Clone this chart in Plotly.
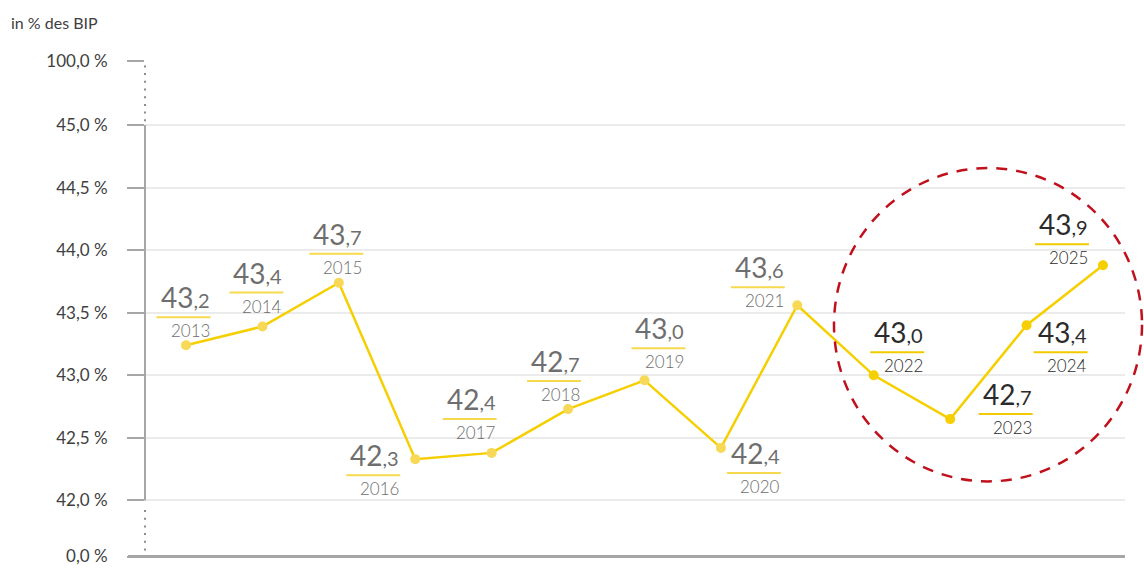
import plotly.graph_objects as go

# ---------------- data ----------------
years = [2013, 2014, 2015, 2016, 2017, 2018, 2019, 2020, 2021, 2022, 2023, 2024, 2025]
values = [43.24, 43.39, 43.74, 42.33, 42.38, 42.73, 42.96, 42.42, 43.56, 43.00, 42.65, 43.40, 43.88]
label_int = ["43", "43", "43", "42", "42", "42", "43", "42", "43", "43", "42", "43", "43"]
label_dec = [",2", ",4", ",7", ",3", ",4", ",7", ",0", ",4", ",6", ",0", ",7", ",4", ",9"]
highlight_from = 2022

# broken axis: tick values (positions) and their texts
tick_vals = [41.552, 42.0, 42.5, 43.0, 43.5, 44.0, 44.5, 45.0, 45.512]
tick_text = ["0,0 %", "42,0 %", "42,5 %", "43,0 %", "43,5 %", "44,0 %", "44,5 %", "45,0 %", "100,0 %"]

# label placement (pixel offsets of label centre / underline relative to point)
label_dx = [-2.5, -6, -2.5, -42, -22, -14, 14, 33, -39.5, 23.5, 55.5, 34, -41]
label_dy = [28, 34, 29, -16, 34, 28, 32, -25, 18, 23, 5, -27, 21]

FONT = "Lato"
YELLOW = "#f5cf00"
OLD_MARK = "#f7d857"
OLD_TEXT = "#6e6e6e"
NEW_TEXT = "#2b2b2b"
OLD_ULINE = "#f7d94e"
NEW_ULINE = "#f2ca00"
AXIS = "#a6a6a6"

fig = go.Figure()

marker_colors = [YELLOW if y >= highlight_from else OLD_MARK for y in years]
fig.add_trace(go.Scatter(
    x=years, y=values, mode="lines+markers",
    line=dict(color=YELLOW, width=2.5),
    marker=dict(size=10, color=marker_colors),
    hoverinfo="skip", showlegend=False,
))

shapes = []
annotations = []
HALF_W = 27
for yr, v, li, ld, dx, dy in zip(years, values, label_int, label_dec, label_dx, label_dy):
    new = yr >= highlight_from
    tcol = NEW_TEXT if new else OLD_TEXT
    ucol = NEW_ULINE if new else OLD_ULINE
    annotations.append(dict(
        x=yr, y=v, xref="x", yref="y", showarrow=False,
        text=f"{li}<span style='font-size:20px'>{ld}</span>",
        font=dict(family=FONT, size=28, color=tcol),
        xanchor="right", yanchor="bottom",
        xshift=dx + HALF_W + 1, yshift=dy + 1,
    ))
    annotations.append(dict(
        x=yr, y=v, xref="x", yref="y", showarrow=False,
        text=str(yr),
        font=dict(family=FONT, size=17, color=tcol, weight=300),
        xanchor="right", yanchor="top",
        xshift=dx + HALF_W + 1, yshift=dy - 1,
    ))
    shapes.append(dict(
        type="line", xref="x", yref="y",
        xsizemode="pixel", ysizemode="pixel",
        xanchor=yr, yanchor=v,
        x0=dx - HALF_W, x1=dx + HALF_W, y0=dy, y1=dy,
        line=dict(color=ucol, width=2),
    ))

# y-axis line: solid between 42 and 45, dotted across the breaks
shapes.append(dict(type="line", xref="paper", yref="y", x0=0, x1=0, y0=42.0, y1=45.0,
                   line=dict(color=AXIS, width=2), layer="above"))
shapes.append(dict(type="line", xref="paper", yref="y", x0=0, x1=0, y0=45.03, y1=45.48,
                   line=dict(color="#8c8c8c", width=2, dash="2px,5.7px"), layer="above"))
shapes.append(dict(type="line", xref="paper", yref="y", x0=0, x1=0, y0=41.6, y1=41.95,
                   line=dict(color="#8c8c8c", width=2, dash="2px,5.7px"), layer="above"))
# baseline at 0,0 %
shapes.append(dict(type="line", xref="paper", yref="y", x0=-17 / 980, x1=1, y0=41.552, y1=41.552,
                   line=dict(color=AXIS, width=3), layer="above"))
# highlight circle (dashed red)
shapes.append(dict(type="circle", xref="paper", yref="paper",
                   x0=(834 - 145) / 980, x1=(1142 - 145) / 980,
                   y0=(557.5 - 481) / 497.5, y1=(557.5 - 168) / 497.5,
                   line=dict(color="#c0101c", width=2.5, dash="11px,9px"), layer="above"))

annotations.append(dict(
    xref="paper", yref="paper", x=0, y=1, xshift=-136, yshift=38,
    xanchor="left", yanchor="middle", showarrow=False,
    text="in % des BIP", font=dict(family=FONT, size=16, color="#404040"),
))

fig.update_layout(
    width=1144, height=570,
    margin=dict(l=145, r=19, t=60, b=12, autoexpand=False),
    paper_bgcolor="white", plot_bgcolor="white",
    font=dict(family=FONT),
    shapes=shapes, annotations=annotations,
    xaxis=dict(range=[2012.4635, 2025.288], showgrid=False, zeroline=False,
               showticklabels=False, showline=False, ticks="", automargin=False),
    yaxis=dict(range=[41.54, 45.52], tickvals=tick_vals, ticktext=tick_text,
               showgrid=True, gridcolor="#ebebeb", gridwidth=1.5,
               zeroline=False, showline=False, automargin=False,
               ticks="outside", ticklen=17, tickwidth=1.5, tickcolor=AXIS,
               ticklabelstandoff=16,
               tickfont=dict(family=FONT, size=17, color="#404040")),
)

fig.write_html("out.html", config={"displayModeBar": False},
               post_script="document.body.style.margin='0';")
